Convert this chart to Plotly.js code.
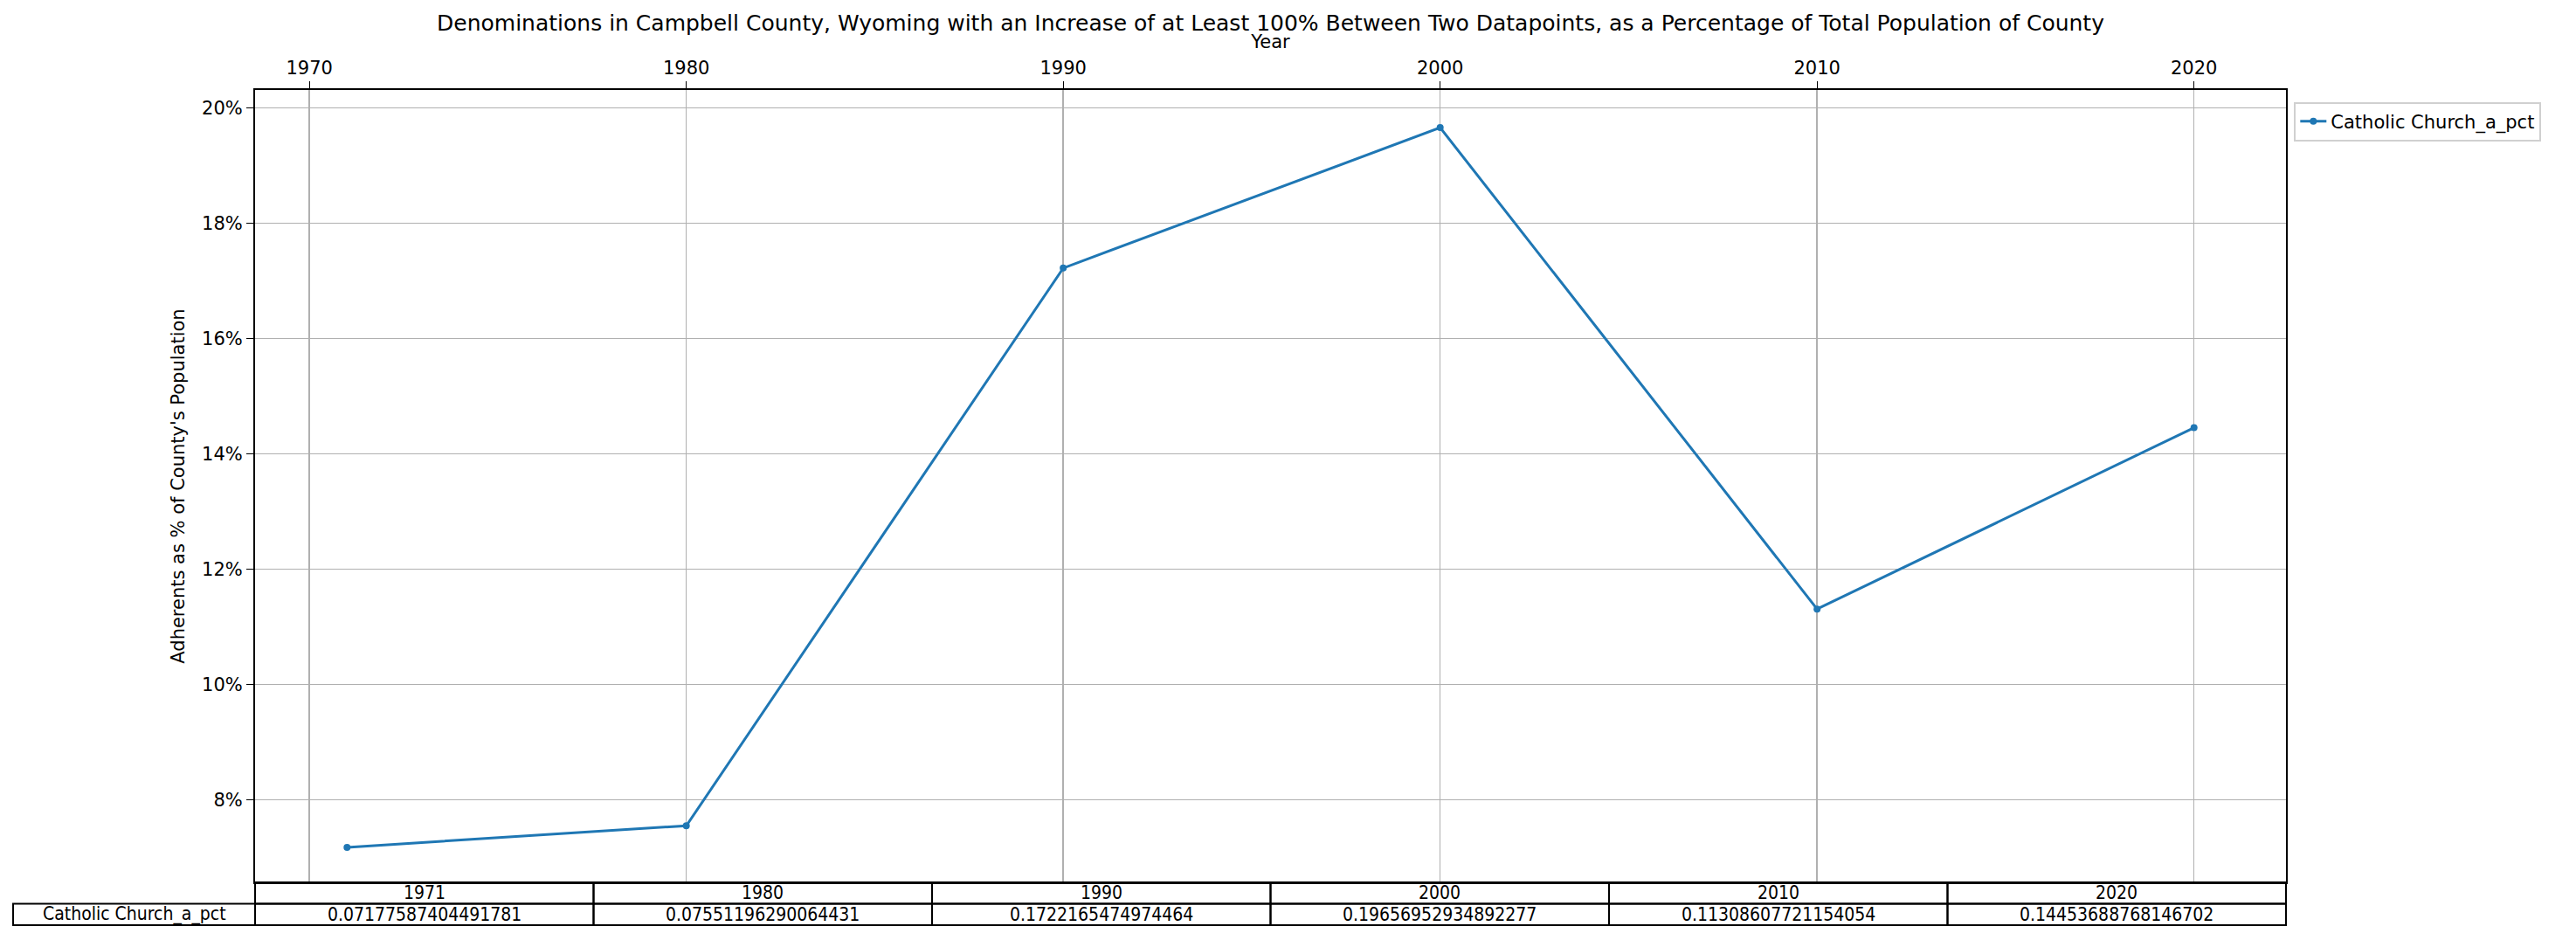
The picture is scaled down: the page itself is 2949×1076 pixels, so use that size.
<!DOCTYPE html>
<html>
<head>
<meta charset="utf-8">
<script src="https://cdn.plot.ly/plotly-3.0.1.min.js"></script>
<style>html,body{margin:0;padding:0;background:#fff}#chart{width:2949px;height:1076px}</style>
</head>
<body>
<div id="chart"></div>
<script>
// data
const years = [1971, 1980, 1990, 2000, 2010, 2020];
const seriesName = 'Catholic Church_a_pct';
const catholicPct = [0.07177587404491781, 0.07551196290064431, 0.1722165474974464,
  0.19656952934892277, 0.11308607721154054, 0.14453688768146702];
const cellText = ['0.07177587404491781', '0.07551196290064431', '0.1722165474974464',
  '0.19656952934892277', '0.11308607721154054', '0.14453688768146702'];

const W = 2949, H = 1076;
const plotL = 292, plotR = 2617, plotT = 103, plotB = 1010;
const rowH = 24.5, labelL = 15;
const font = 'DejaVu Sans, sans-serif';
const cond = 'DejaVu Sans Condensed, DejaVu Sans, sans-serif';

// table built from the arrays, pixel positions converted to paper coords
const px = x => (x - plotL) / (plotR - plotL);
const py = y => (plotB - y) / (plotB - plotT);
const colW = (plotR - plotL) / years.length;
const shapes = [];
const annotations = [];
const line = {color: '#000', width: 2};
const cell = (x, y, text) => ({xref: 'paper', yref: 'paper', x, y, text, showarrow: false,
  xanchor: 'center', yanchor: 'middle', font: {family: cond, size: 21, color: '#000'}});
years.forEach((yr, i) => {
  const x0 = plotL + i * colW, x1 = x0 + colW;
  shapes.push({type: 'rect', xref: 'paper', yref: 'paper', x0: px(x0), x1: px(x1), y0: py(plotB + rowH), y1: py(plotB), line});
  shapes.push({type: 'rect', xref: 'paper', yref: 'paper', x0: px(x0), x1: px(x1), y0: py(plotB + 2 * rowH), y1: py(plotB + rowH), line});
  annotations.push(cell(px((x0 + x1) / 2), py(plotB + rowH / 2), String(yr)));
  annotations.push(cell(px((x0 + x1) / 2), py(plotB + 1.5 * rowH), cellText[i]));
});
shapes.push({type: 'rect', xref: 'paper', yref: 'paper', x0: px(labelL), x1: px(plotL), y0: py(plotB + 2 * rowH), y1: py(plotB + rowH), line});
annotations.push(cell(px((labelL + plotL) / 2), py(plotB + 1.5 * rowH), seriesName));

const trace = {
  type: 'scatter', mode: 'lines+markers', name: seriesName,
  x: years, y: catholicPct,
  line: {color: '#1f77b4', width: 3}, marker: {size: 8, color: '#1f77b4'}
};

const layout = {
  width: W, height: H,
  margin: {l: plotL, r: W - plotR, t: plotT, b: H - plotB},
  paper_bgcolor: '#fff', plot_bgcolor: '#fff',
  font: {family: font, size: 21, color: '#000'},
  title: {text: 'Denominations in Campbell County, Wyoming with an Increase of at Least 100% Between Two Datapoints, as a Percentage of Total Population of County',
    x: 0.5, xref: 'paper', y: 1 - 26 / H, yanchor: 'middle', font: {size: 25}},
  xaxis: {side: 'top', range: [1968.56, 2022.44], tickvals: [1970, 1980, 1990, 2000, 2010, 2020],
    ticks: 'outside', ticklen: 8, tickcolor: '#000', showgrid: true, gridcolor: '#b0b0b0', gridwidth: 1.5,
    showline: true, linecolor: '#000', linewidth: 2, mirror: true, zeroline: false,
    title: {text: 'Year', standoff: 4, font: {size: 21}}},
  yaxis: {range: [0.0657, 0.2031], tickvals: [0.08, 0.10, 0.12, 0.14, 0.16, 0.18, 0.20], tickformat: '.0%',
    ticks: 'outside', ticklen: 8, tickcolor: '#000', showgrid: true, gridcolor: '#b0b0b0', gridwidth: 1.5,
    showline: true, linecolor: '#000', linewidth: 2, mirror: true, zeroline: false,
    title: {text: "Adherents as % of County's Population", standoff: 14, font: {size: 21}}},
  showlegend: true,
  legend: {x: 1.004, xanchor: 'left', y: 0.985, yanchor: 'top', bordercolor: '#d0d0d0', borderwidth: 2, font: {size: 21}},
  shapes, annotations
};

Plotly.newPlot('chart', [trace], layout, {displayModeBar: false, staticPlot: true});
</script>
</body>
</html>
